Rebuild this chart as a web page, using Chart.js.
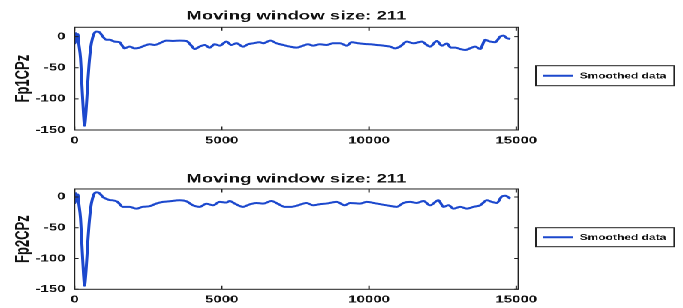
<!DOCTYPE html>
<html>
<head>
<meta charset="utf-8">
<script src="https://cdn.jsdelivr.net/npm/chart.js@4.4.1/dist/chart.umd.min.js"></script>
<style>
  html, body { margin: 0; padding: 0; background: #fff; }
  #wrap { position: absolute; left: 0; top: 0; width: 455px; height: 308px;
          transform: scaleX(1.5011); transform-origin: 0 0; }
  canvas { display: block; }
</style>
</head>
<body>
<div id="wrap">
  <canvas id="c1" width="455" height="154"></canvas>
  <canvas id="c2" width="455" height="154"></canvas>
</div>
<script>
// ---- data ----
const chartTitle = 'Moving window size: 211';
const seriesLabel = 'Smoothed data';
const channelTop = 'Fp1CPz';
const channelBottom = 'Fp2CPz';
const xTicks = [0, 5000, 10000, 15000];
const yTicks = [-150, -100, -50, 0];

const topX = [0,10,44,78,112,146,204,255,306,340,391,442,493,544,612,680,748,850,962,1078,1190,1360,1530,1700,1871,2041,2211,2381,2551,2721,2891,3119,3343,3571,3799,3969,4081,4251,4421,4591,4761,4931,5159,5329,5499,5724,5894,6064,6292,6404,6656,6860,7084,7312,7540,7764,7934,8105,8332,8560,8785,9013,9241,9411,9635,9863,10033,10261,10485,10713,10883,11053,11281,11505,11791,11961,12074,12302,12472,12642,12778,12924,13094,13264,13434,13604,13774,13944,14114,14284,14454,14566,14682,14800];
const topY = [3,-11,5.5,-8,4,-11,-35,-80,-125,-143,-120,-80,-45,-20,-2,6,8,7,0,-5,-5,-8,-9,-18.8,-16,-18.8,-17.7,-14.5,-12.3,-13.4,-10.7,-6.4,-7,-6.4,-7,-14.5,-19.9,-16,-13.4,-17.7,-12.3,-14.5,-8,-13.4,-10.7,-16,-12.3,-10.7,-9,-10.7,-6.4,-10.7,-13.4,-16,-17.7,-14.5,-12.3,-14.5,-12.3,-13.4,-10.7,-10.7,-14.5,-9,-10.7,-11.8,-12.3,-13.4,-14.5,-16,-18.8,-16,-8,-10.7,-8,-13.4,-16,-7,-14.5,-11,-17.7,-17.7,-19.9,-21.5,-18.8,-16,-19.9,-5.3,-8,-9,0,1.6,-2.6,-3.7];

const bottomX = [0,10,44,78,112,146,204,255,306,340,391,442,493,544,612,680,748,850,962,1078,1190,1303,1462,1643,1871,2098,2313,2551,2779,3003,3231,3571,3799,4023,4251,4479,4704,4931,5159,5272,5441,5724,5952,6180,6404,6690,6904,7142,7370,7595,7880,8105,8332,8560,8900,9183,9353,9693,9921,10261,10601,10941,11166,11393,11620,11846,12074,12356,12526,12696,12866,13094,13321,13548,13774,14002,14172,14342,14512,14625,14795];
const bottomY = [3,-10,6,-7,4,-10,-35,-80,-126,-144,-120,-80,-45,-20,-2,6,7.5,6,0,-3,-5,-5.4,-8,-16,-16,-19,-16,-15,-10.7,-8,-7,-5.4,-7,-13.5,-16,-11,-13.5,-8,-9,-6.5,-10.7,-16,-12,-9.7,-10.7,-6.5,-11,-16,-16,-13.5,-9.7,-13.5,-11.8,-10.7,-8,-13.5,-9.7,-10.7,-8,-10.7,-13.5,-16,-9.7,-8,-9.7,-6.5,-13.5,-5.4,-16,-13.5,-18.9,-16,-18.9,-16,-13.5,-5.4,-8,-9.7,1,2,-2.7];

// ---- styling ----
const FONT = '"Liberation Sans", Arial, Helvetica, sans-serif';
const LINE = 'rgb(28, 72, 205)';

const frame = {
  id: 'frame',
  afterDraw(chart) {
    const {ctx, chartArea: a, scales: {x, y}} = chart;
    const o = chart.options.plugins.frame;
    ctx.save();
    ctx.lineWidth = 1;
    ctx.strokeStyle = '#222';
    ctx.strokeRect(a.left, a.top, a.right - a.left, a.bottom - a.top);
    ctx.beginPath();
    xTicks.forEach(v => {
      const px = x.getPixelForValue(v);
      ctx.moveTo(px, a.bottom); ctx.lineTo(px, a.bottom - 3.5);
      ctx.moveTo(px, a.top); ctx.lineTo(px, a.top + 3.5);
    });
    yTicks.forEach(v => {
      const py = y.getPixelForValue(v);
      ctx.moveTo(a.left, py); ctx.lineTo(a.left + 2.7, py);
      ctx.moveTo(a.right, py); ctx.lineTo(a.right - 2.7, py);
    });
    ctx.stroke();
    // legend box
    const L = o.legend;
    ctx.fillStyle = '#fff';
    ctx.fillRect(L.left, L.top, L.width, L.height);
    ctx.strokeStyle = '#222';
    ctx.strokeRect(L.left, L.top, L.width, L.height);
    const ds = chart.data.datasets[0];
    const cy = L.top + L.height / 2;
    ctx.strokeStyle = ds.borderColor;
    ctx.lineWidth = 2;
    ctx.beginPath();
    ctx.moveTo(L.lineFrom, cy); ctx.lineTo(L.lineTo, cy);
    ctx.stroke();
    ctx.fillStyle = '#111';
    ctx.font = 'bold 8px ' + FONT;
    ctx.textBaseline = 'middle';
    ctx.textAlign = 'left';
    ctx.fillText(ds.label, L.textX, cy + 0.5);
    ctx.restore();
  }
};

function makeChart(id, xs, ys, yLabel, ymax, geom) {
  const pts = xs.map((v, i) => ({x: v, y: ys[i]}));
  return new Chart(document.getElementById(id), {
    type: 'line',
    data: { datasets: [{
      label: seriesLabel, data: pts, borderColor: LINE, borderWidth: 2,
      pointRadius: 0, cubicInterpolationMode: 'monotone', fill: false
    }]},
    options: {
      responsive: false, animation: false, devicePixelRatio: 2,
      layout: { padding: { left: 0, right: 109.7, top: 0, bottom: 0 } },
      plugins: {
        legend: { display: false },
        tooltip: { enabled: false },
        title: {
          display: true, text: chartTitle, fullSize: false, color: '#111',
          font: { family: FONT, size: 12.4, weight: 'bold' },
          padding: geom.titlePad
        },
        frame: { legend: geom.legend }
      },
      scales: {
        x: {
          type: 'linear', min: 0, max: 15070,
          afterBuildTicks: ax => { ax.ticks = xTicks.map(v => ({value: v})); },
          afterFit: ax => { ax.height = geom.xAxisH; },
          grid: { display: false, drawTicks: false },
          border: { display: false },
          ticks: { color: '#111', padding: 4.5, maxRotation: 0,
                   callback: v => String(v),
                   font: { family: FONT, size: 10, weight: 'bold' } }
        },
        y: {
          type: 'linear', min: -150, max: ymax,
          afterBuildTicks: ax => { ax.ticks = yTicks.map(v => ({value: v})); },
          afterFit: ax => { ax.width = 49.6; },
          grid: { display: false, drawTicks: false },
          border: { display: false },
          ticks: { color: '#111', padding: 6, callback: v => String(v),
                   font: { family: FONT, size: 10, weight: 'bold' } },
          title: { display: true, text: yLabel, color: '#111',
                   padding: { top: 7.5, bottom: 0 },
                   font: { family: FONT, size: 13, weight: 'bold' } }
        }
      }
    },
    plugins: [frame]
  });
}

makeChart('c1', topX, topY, channelTop, 15, {
  titlePad: { top: 8.5, bottom: 3.9 }, xAxisH: 24,
  legend: { left: 357, top: 65.7, width: 92.2, height: 20, lineFrom: 362, lineTo: 381.7, textX: 386.2 }
});
makeChart('c2', bottomX, bottomY, channelBottom, 13, {
  titlePad: { top: 17.55, bottom: 2.55 }, xAxisH: 18.7,
  legend: { left: 357, top: 73.7, width: 92.2, height: 19, lineFrom: 362, lineTo: 381.7, textX: 386.2 }
});
</script>
</body>
</html>
